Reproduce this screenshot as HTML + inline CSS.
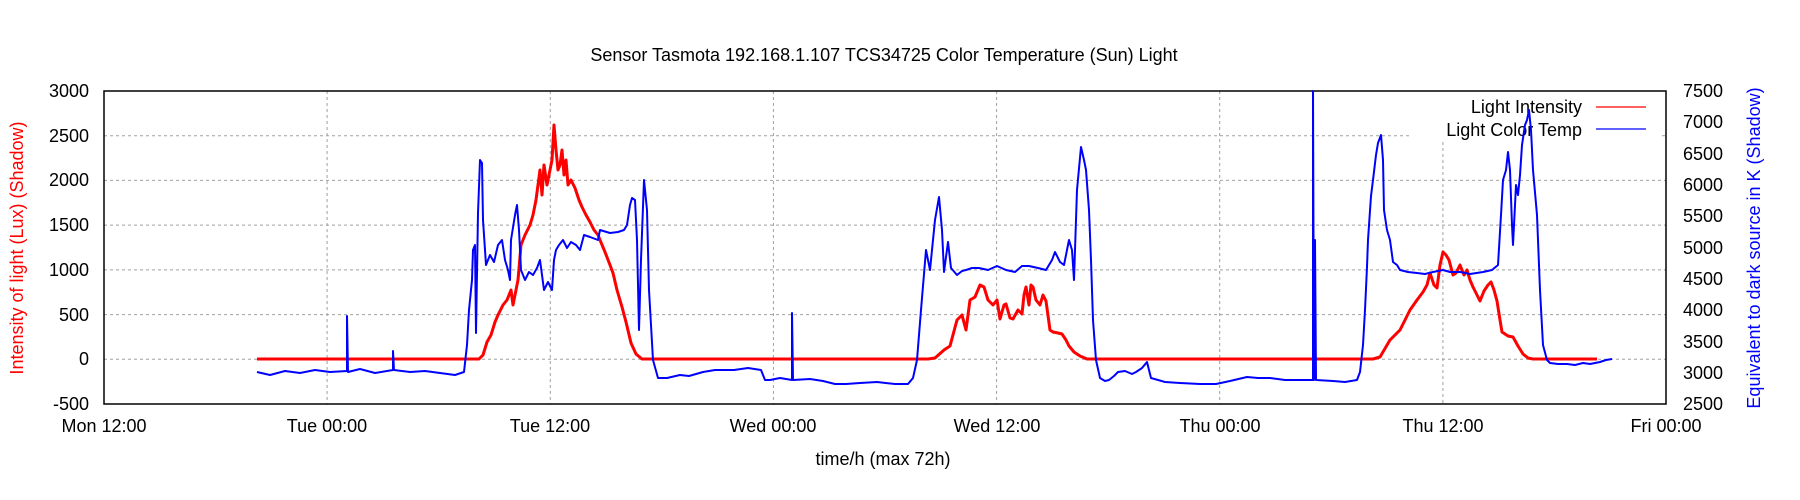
<!DOCTYPE html>
<html><head><meta charset="utf-8"><style>
html,body{margin:0;padding:0;background:#fff;}
svg{display:block;font-family:"Liberation Sans",sans-serif;}
</style></head><body>
<svg width="1800" height="500" viewBox="0 0 1800 500" xmlns="http://www.w3.org/2000/svg">
<rect width="1800" height="500" fill="#fff"/>
<g stroke="#a0a0a0" stroke-width="1" stroke-dasharray="3,3">
<line x1="104" y1="135.7" x2="1410" y2="135.7"/><line x1="1662" y1="135.7" x2="1666" y2="135.7"/>
<line x1="104" y1="180.4" x2="1666" y2="180.4"/>
<line x1="104" y1="225.1" x2="1666" y2="225.1"/>
<line x1="104" y1="269.9" x2="1666" y2="269.9"/>
<line x1="104" y1="314.6" x2="1666" y2="314.6"/>
<line x1="104" y1="359.3" x2="1666" y2="359.3"/>
<line x1="327.1" y1="91" x2="327.1" y2="404"/>
<line x1="550.3" y1="91" x2="550.3" y2="404"/>
<line x1="773.4" y1="91" x2="773.4" y2="404"/>
<line x1="996.6" y1="91" x2="996.6" y2="404"/>
<line x1="1219.7" y1="91" x2="1219.7" y2="404"/>
<line x1="1442.9" y1="142" x2="1442.9" y2="404"/>
</g>
<g id="ticks" stroke="#000" stroke-width="1"></g>
<rect x="104" y="91" width="1562" height="313" fill="none" stroke="#000" stroke-width="1.5"/>
<g font-size="18" fill="#000">
<text x="884" y="61" text-anchor="middle">Sensor Tasmota 192.168.1.107 TCS34725 Color Temperature (Sun) Light</text>
<g text-anchor="end">
<text x="89" y="97">3000</text><text x="89" y="142">2500</text><text x="89" y="186">2000</text>
<text x="89" y="231">1500</text><text x="89" y="276">1000</text><text x="89" y="321">500</text>
<text x="89" y="365">0</text><text x="89" y="410">-500</text>
</g>
<g text-anchor="start">
<text x="1683" y="97">7500</text><text x="1683" y="128">7000</text><text x="1683" y="160">6500</text>
<text x="1683" y="191">6000</text><text x="1683" y="222">5500</text><text x="1683" y="254">5000</text>
<text x="1683" y="285">4500</text><text x="1683" y="316">4000</text><text x="1683" y="348">3500</text>
<text x="1683" y="379">3000</text><text x="1683" y="410">2500</text>
</g>
<g text-anchor="middle">
<text x="104" y="432">Mon 12:00</text><text x="327" y="432">Tue 00:00</text><text x="550" y="432">Tue 12:00</text>
<text x="773" y="432">Wed 00:00</text><text x="997" y="432">Wed 12:00</text><text x="1220" y="432">Thu 00:00</text>
<text x="1443" y="432">Thu 12:00</text><text x="1666" y="432">Fri 00:00</text>
<text x="883" y="465">time/h (max 72h)</text>
</g>
<text transform="translate(23,248) rotate(-90)" text-anchor="middle" fill="#f00">Intensity of light (Lux) (Shadow)</text>
<text transform="translate(1760,248) rotate(-90)" text-anchor="middle" fill="#00f">Equivalent to dark source in K (Shadow)</text>
</g>
<rect x="1410" y="92" width="252" height="48" fill="#fff"/>
<g font-size="18" text-anchor="end"><text x="1582" y="113">Light Intensity</text><text x="1582" y="136">Light Color Temp</text></g>
<line x1="1596" y1="107" x2="1646" y2="107" stroke="#f00" stroke-width="1.2"/>
<line x1="1596" y1="129" x2="1646" y2="129" stroke="#00f" stroke-width="1.2"/>
<g fill="none" stroke-linejoin="round">
<polyline stroke="#f00" stroke-width="3" points="257,359 479,359 483,355 487,342 491,335 495,322 498,315 503,305 507,300 511,290 513,305 515,295 518,280 521,245 525,235 530,225 533,215 536,200 538,185 540,170 542,195 544,165 547,185 550,170 552,160 554,125 556,150 558,170 560,165 562,150 564,175 566,160 568,185 571,180 575,188 579,200 582,207 586,215 590,222 594,230 598,235 600,240 605,252 610,265 613,273 617,290 622,307 626,322 631,343 636,354 642,359 928,359 935,358 944,350 950,346 957,320 962,315 966,330 970,300 975,297 980,285 984,287 988,300 993,305 997,300 1000,319 1004,305 1006,304 1010,318 1013,319 1018,310 1022,314 1024,295 1026,287 1029,305 1031,285 1033,287 1036,300 1040,305 1043,295 1046,301 1050,330 1053,332 1058,333 1062,334 1066,340 1069,346 1074,352 1080,356 1087,359 1373,359 1380,357 1390,340 1395,335 1400,330 1405,320 1410,310 1417,300 1423,292 1427,285 1430,273 1434,285 1437,288 1440,265 1443,252 1446,255 1449,260 1453,275 1456,273 1460,265 1464,275 1467,270 1470,280 1473,287 1476,293 1480,301 1484,291 1488,285 1491,282 1494,290 1497,301 1500,320 1502,332 1508,336 1513,337 1518,346 1523,354 1528,358 1533,359 1597,359"/>
<polyline stroke="#00f" stroke-width="2" points="257,372 270,375 285,371 300,373 315,370 330,372 347,371 347,316 348,372 360,369 375,373 393,370 393,351 394,370 410,372 425,371 440,373 455,375 464,372 467,345 469,310 472,280 473,250 475,245 476,333 478,213 480,160 482,163 483,220 486,265 490,255 494,262 498,245 502,240 505,260 508,270 510,280 511,240 515,215 517,205 519,230 521,270 525,280 529,272 533,275 537,268 540,260 544,290 548,282 552,290 554,260 556,250 559,245 563,240 567,248 571,242 576,245 580,250 584,235 590,237 598,240 600,230 610,233 618,232 624,230 627,225 630,205 632,198 635,200 637,240 639,330 641,260 644,180 647,210 649,290 653,360 658,378 667,378 680,375 689,376 703,372 715,370 734,370 748,368 761,370 765,380 770,380 780,378 792,380 792,313 793,380 810,379 823,381 835,384 846,384 860,383 877,382 895,384 908,384 913,378 917,360 921,310 926,250 930,270 935,220 939,197 942,230 944,272 948,242 951,268 957,275 962,271 966,270 972,268 979,268 988,270 997,266 1006,270 1015,272 1022,266 1029,266 1038,268 1046,270 1052,260 1055,252 1060,262 1064,265 1069,240 1072,250 1074,280 1077,190 1081,147 1084,160 1086,170 1089,210 1091,260 1093,320 1096,360 1100,378 1105,381 1109,380 1114,376 1118,372 1125,371 1132,374 1136,372 1142,368 1147,362 1149,370 1151,378 1165,382 1180,383 1200,384 1216,384 1230,381 1247,377 1258,378 1270,378 1285,380 1300,380 1313,380 1313,91 1314,380 1315,240 1316,380 1333,381 1345,382 1357,380 1360,372 1363,345 1365,310 1367,267 1368,240 1371,196 1373,180 1376,155 1378,143 1381,135 1383,160 1384,210 1387,230 1390,240 1393,262 1397,265 1400,270 1408,272 1417,273 1425,274 1433,272 1443,270 1450,272 1460,272 1470,274 1483,272 1492,270 1498,265 1501,215 1503,180 1506,170 1508,152 1510,170 1512,225 1513,245 1516,185 1518,195 1520,175 1522,145 1525,125 1527,120 1529,110 1531,130 1533,170 1537,215 1540,290 1543,345 1547,360 1550,363 1558,364 1567,364 1575,365 1583,363 1590,364 1600,362 1606,360 1612,359"/>
</g>
<script>
var g=document.getElementById('ticks'),s='';
for(var h=3;h<84;h+=3){var x=104+h*18.595;s+='<line x1="'+x+'" y1="404" x2="'+x+'" y2="397"/><line x1="'+x+'" y1="91" x2="'+x+'" y2="98"/>';}
for(var i=1;i<7;i++){var y=91+i*44.714;s+='<line x1="104" y1="'+y+'" x2="111" y2="'+y+'"/>';}
for(var i=1;i<10;i++){var y=91+i*31.3;s+='<line x1="1666" y1="'+y+'" x2="1659" y2="'+y+'"/>';}
g.innerHTML=s;
</script>
</svg>
</body></html>
